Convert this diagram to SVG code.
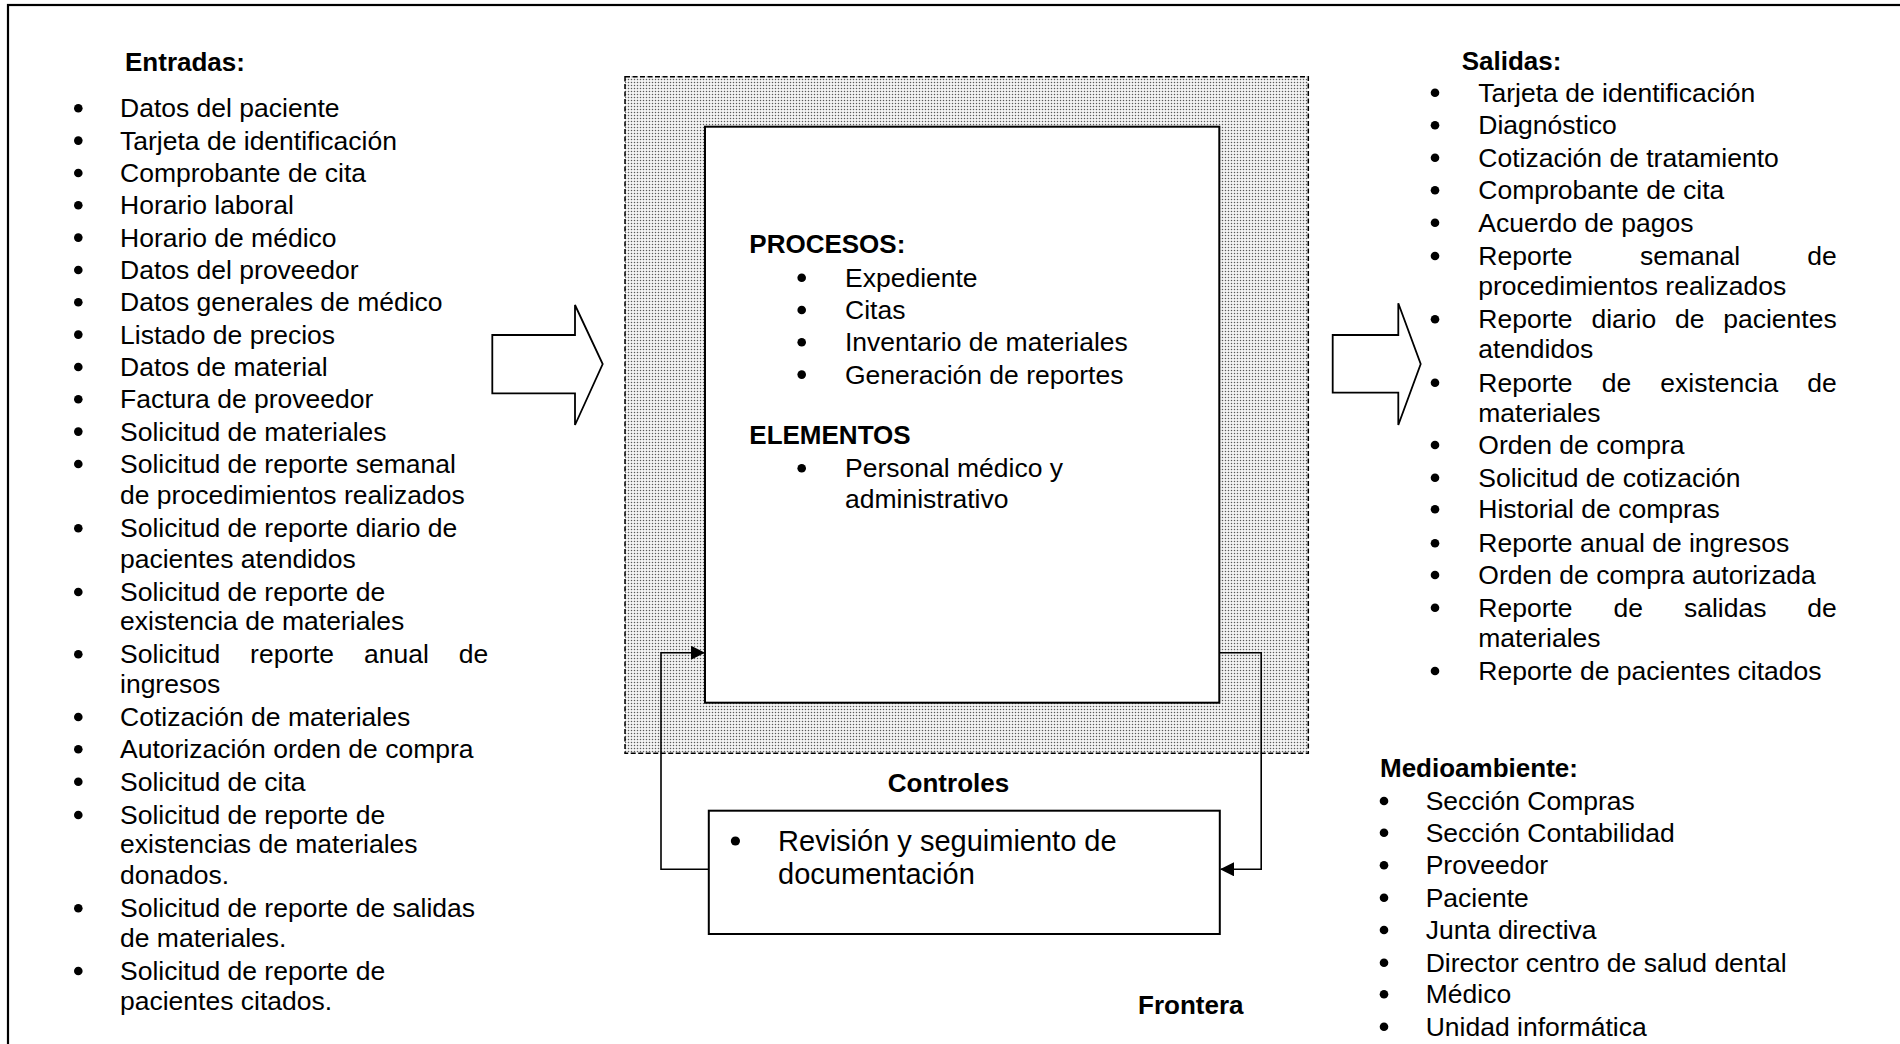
<svg xmlns="http://www.w3.org/2000/svg" width="1900" height="1044" viewBox="0 0 1900 1044">
<style>
.t{font-family:"Liberation Sans",Arial,Helvetica,sans-serif;font-size:26.5px;fill:#000}
.h{font-family:"Liberation Sans",Arial,Helvetica,sans-serif;font-size:26px;font-weight:bold;fill:#000}
.c{font-family:"Liberation Sans",Arial,Helvetica,sans-serif;font-size:29px;fill:#000}
.ln{fill:none;stroke:#000;stroke-width:1.6}
.box{fill:#fff;stroke:#000;stroke-width:2}
.arw{fill:#fff;stroke:#000;stroke-width:1.8;stroke-linejoin:miter}
</style>
<defs>
<pattern id="dots" width="3" height="3" patternUnits="userSpaceOnUse">
<rect width="3" height="3" fill="#f4f4f4"/>
<circle cx="1.5" cy="1.5" r="0.75" fill="#5a5a5a"/>
</pattern>
<marker id="ahb" markerWidth="14" markerHeight="14" refX="13" refY="7" orient="auto" markerUnits="userSpaceOnUse">
<path d="M0,0 L14,7 L0,14 z" fill="#000"/>
</marker>
</defs>
<rect width="1900" height="1044" fill="#fff"/>
<g id="frame"><rect x="8" y="5" width="1920" height="1100" fill="none" stroke="#000" stroke-width="2.2"/></g>

<g id="entradas">
<text class="h" x="125" y="71">Entradas:</text>
<g fill="#000">
<circle cx="78.3" cy="108.3" r="4.3"/><circle cx="78.3" cy="140.6" r="4.3"/><circle cx="78.3" cy="173" r="4.3"/><circle cx="78.3" cy="205.3" r="4.3"/><circle cx="78.3" cy="237.6" r="4.3"/><circle cx="78.3" cy="270" r="4.3"/><circle cx="78.3" cy="302.3" r="4.3"/><circle cx="78.3" cy="334.6" r="4.3"/><circle cx="78.3" cy="367" r="4.3"/><circle cx="78.3" cy="399.3" r="4.3"/><circle cx="78.3" cy="431.6" r="4.3"/><circle cx="78.3" cy="464" r="4.3"/><circle cx="78.3" cy="528.3" r="4.3"/><circle cx="78.3" cy="592" r="4.3"/><circle cx="78.3" cy="654.3" r="4.3"/><circle cx="78.3" cy="717" r="4.3"/><circle cx="78.3" cy="749.3" r="4.3"/><circle cx="78.3" cy="781.7" r="4.3"/><circle cx="78.3" cy="815" r="4.3"/><circle cx="78.3" cy="908.3" r="4.3"/><circle cx="78.3" cy="971" r="4.3"/>
</g>
<text class="t" x="120" y="117.3">Datos del paciente</text>
<text class="t" x="120" y="149.6">Tarjeta de identificación</text>
<text class="t" x="120" y="182">Comprobante de cita</text>
<text class="t" x="120" y="214.3">Horario laboral</text>
<text class="t" x="120" y="246.6">Horario de médico</text>
<text class="t" x="120" y="279">Datos del proveedor</text>
<text class="t" x="120" y="311.3">Datos generales de médico</text>
<text class="t" x="120" y="343.6">Listado de precios</text>
<text class="t" x="120" y="376">Datos de material</text>
<text class="t" x="120" y="408.3">Factura de proveedor</text>
<text class="t" x="120" y="440.6">Solicitud de materiales</text>
<text class="t" x="120" y="473">Solicitud de reporte semanal</text>
<text class="t" x="120" y="503.5">de procedimientos realizados</text>
<text class="t" x="120" y="537.3">Solicitud de reporte diario de</text>
<text class="t" x="120" y="567.7">pacientes atendidos</text>
<text class="t" x="120" y="601">Solicitud de reporte de</text>
<text class="t" x="120" y="630">existencia de materiales</text>
<text class="t" y="663.3"><tspan x="120">Solicitud</tspan><tspan x="250.1">reporte</tspan><tspan x="364.1">anual</tspan><tspan x="488.3" text-anchor="end">de</tspan></text>
<text class="t" x="120" y="693.3">ingresos</text>
<text class="t" x="120" y="726">Cotización de materiales</text>
<text class="t" x="120" y="758.3">Autorización orden de compra</text>
<text class="t" x="120" y="790.7">Solicitud de cita</text>
<text class="t" x="120" y="824">Solicitud de reporte de</text>
<text class="t" x="120" y="853.3">existencias de materiales</text>
<text class="t" x="120" y="884">donados.</text>
<text class="t" x="120" y="917.3">Solicitud de reporte de salidas</text>
<text class="t" x="120" y="947.3">de materiales.</text>
<text class="t" x="120" y="980">Solicitud de reporte de</text>
<text class="t" x="120" y="1010">pacientes citados.</text>
</g>

<g id="arrow-in"><path class="arw" d="M492.3,335 H575 V305 L602.7,364 L575,425 V393.3 H492.3 Z"/></g>

<g id="frontera-zone"><rect x="625" y="76.7" width="683.3" height="676.6" fill="url(#dots)" stroke="#000" stroke-width="1.5" stroke-dasharray="5 2.5"/></g>

<g id="proceso">
<rect class="box" x="705" y="126.7" width="514.3" height="576"/>
<text class="h" x="749.3" y="253.3">PROCESOS:</text>
<g fill="#000"><circle cx="801.7" cy="277.7" r="4.3"/><circle cx="801.7" cy="310" r="4.3"/><circle cx="801.7" cy="342.3" r="4.3"/><circle cx="801.7" cy="374.6" r="4.3"/><circle cx="801.7" cy="468.3" r="4.3"/></g>
<text class="t" x="845" y="286.7">Expediente</text>
<text class="t" x="845" y="319">Citas</text>
<text class="t" x="845" y="351.3">Inventario de materiales</text>
<text class="t" x="845" y="383.6">Generación de reportes</text>
<text class="h" x="749.3" y="444">ELEMENTOS</text>
<text class="t" x="845" y="477.3">Personal médico y</text>
<text class="t" x="845" y="507.8">administrativo</text>
</g>

<g id="arrow-out"><path class="arw" d="M1332.7,335 H1398.3 V303.3 L1420.7,364 L1398.3,425 V392.7 H1332.7 Z"/></g>

<g id="salidas">
<text class="h" x="1461.7" y="70">Salidas:</text>
<g fill="#000">
<circle cx="1435" cy="92.7" r="4.3"/><circle cx="1435" cy="125.3" r="4.3"/><circle cx="1435" cy="157.7" r="4.3"/><circle cx="1435" cy="190.3" r="4.3"/><circle cx="1435" cy="222.7" r="4.3"/><circle cx="1435" cy="256" r="4.3"/><circle cx="1435" cy="319.3" r="4.3"/><circle cx="1435" cy="382.7" r="4.3"/><circle cx="1435" cy="445" r="4.3"/><circle cx="1435" cy="477.7" r="4.3"/><circle cx="1435" cy="509.3" r="4.3"/><circle cx="1435" cy="543.3" r="4.3"/><circle cx="1435" cy="575" r="4.3"/><circle cx="1435" cy="607.7" r="4.3"/><circle cx="1435" cy="671" r="4.3"/>
</g>
<text class="t" x="1478.3" y="101.7">Tarjeta de identificación</text>
<text class="t" x="1478.3" y="134.3">Diagnóstico</text>
<text class="t" x="1478.3" y="166.7">Cotización de tratamiento</text>
<text class="t" x="1478.3" y="199.3">Comprobante de cita</text>
<text class="t" x="1478.3" y="231.7">Acuerdo de pagos</text>
<text class="t" y="265"><tspan x="1478.3">Reporte</tspan><tspan x="1639.9">semanal</tspan><tspan x="1836.7" text-anchor="end">de</tspan></text>
<text class="t" x="1478.3" y="295">procedimientos realizados</text>
<text class="t" y="328.3"><tspan x="1478.3">Reporte</tspan><tspan x="1591.4">diario</tspan><tspan x="1675">de</tspan><tspan x="1836.7" text-anchor="end">pacientes</tspan></text>
<text class="t" x="1478.3" y="358.3">atendidos</text>
<text class="t" y="391.7"><tspan x="1478.3">Reporte</tspan><tspan x="1601.7">de</tspan><tspan x="1660.3">existencia</tspan><tspan x="1836.7" text-anchor="end">de</tspan></text>
<text class="t" x="1478.3" y="421.7">materiales</text>
<text class="t" x="1478.3" y="454">Orden de compra</text>
<text class="t" x="1478.3" y="486.7">Solicitud de cotización</text>
<text class="t" x="1478.3" y="518.3">Historial de compras</text>
<text class="t" x="1478.3" y="552.3">Reporte anual de ingresos</text>
<text class="t" x="1478.3" y="584">Orden de compra autorizada</text>
<text class="t" y="616.7"><tspan x="1478.3">Reporte</tspan><tspan x="1613.5">de</tspan><tspan x="1683.9">salidas</tspan><tspan x="1836.7" text-anchor="end">de</tspan></text>
<text class="t" x="1478.3" y="646.7">materiales</text>
<text class="t" x="1478.3" y="680">Reporte de pacientes citados</text>
</g>

<g id="medioambiente">
<text class="h" x="1380" y="776.7">Medioambiente:</text>
<g fill="#000">
<circle cx="1384" cy="801" r="4.3"/><circle cx="1384" cy="832.7" r="4.3"/><circle cx="1384" cy="865.3" r="4.3"/><circle cx="1384" cy="897.7" r="4.3"/><circle cx="1384" cy="930" r="4.3"/><circle cx="1384" cy="962.7" r="4.3"/><circle cx="1384" cy="994.3" r="4.3"/><circle cx="1384" cy="1026.7" r="4.3"/>
</g>
<text class="t" x="1425.7" y="810">Sección Compras</text>
<text class="t" x="1425.7" y="841.7">Sección Contabilidad</text>
<text class="t" x="1425.7" y="874.3">Proveedor</text>
<text class="t" x="1425.7" y="906.7">Paciente</text>
<text class="t" x="1425.7" y="939">Junta directiva</text>
<text class="t" x="1425.7" y="971.7">Director centro de salud dental</text>
<text class="t" x="1425.7" y="1003.3">Médico</text>
<text class="t" x="1425.7" y="1035.7">Unidad informática</text>
</g>

<g id="controles">
<text class="h" x="948.5" y="791.7" text-anchor="middle">Controles</text>
<rect class="box" x="708.8" y="810.7" width="511" height="123.3"/>
<circle cx="735.4" cy="841" r="4.6" fill="#000"/>
<text class="c" x="778.1" y="850.7">Revisión y seguimiento de</text>
<text class="c" x="778.1" y="884">documentación</text>
</g>

<g id="frontera"><text class="h" x="1138" y="1014">Frontera</text></g>

<g id="connectors">
<path class="ln" d="M708.8,869.3 H661 V652.7 H704" marker-end="url(#ahb)"/>
<path class="ln" d="M1219.3,652.7 H1261.2 V869.3 H1221" marker-end="url(#ahb)"/>
</g>
</svg>
